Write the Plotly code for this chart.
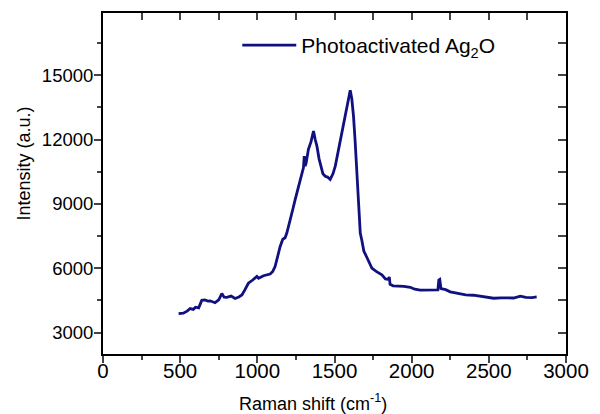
import plotly.graph_objects as go

raman_shift = [490, 520, 545, 565, 585, 600, 620, 640, 660, 680, 694, 710, 726, 750, 770, 785, 802, 830, 856, 880,
               900, 920, 942, 970, 997, 1008, 1040, 1083, 1100, 1115, 1130, 1148, 1165, 1180, 1191, 1213, 1230, 1245,
               1262, 1278, 1299, 1304, 1310, 1316, 1331, 1348, 1364, 1375, 1386, 1400, 1411, 1425, 1440, 1455, 1472,
               1490, 1505, 1520, 1537, 1553, 1569, 1585, 1602, 1612, 1623, 1633, 1641, 1650, 1656, 1667, 1677, 1690,
               1710, 1742, 1770, 1807, 1830, 1850, 1855, 1860, 1880, 1915, 1950, 1991, 2020, 2056, 2100, 2150, 2170,
               2176, 2182, 2190, 2220, 2250, 2300, 2350, 2400, 2450, 2500, 2531, 2580, 2620, 2660, 2704, 2740, 2780, 2810]
intensity = [3880, 3900, 4000, 4120, 4080, 4180, 4150, 4500, 4520, 4470, 4480, 4420, 4390, 4520, 4820, 4650, 4640, 4700, 4590, 4660,
             4750, 5000, 5300, 5450, 5620, 5530, 5650, 5730, 5850, 6075, 6500, 7013, 7350, 7420, 7640, 8200, 8750, 9200,
             9700, 10140, 10690, 11230, 10760, 10900, 11545, 11900, 12400, 12000, 11700, 11100, 10760, 10400, 10290, 10250, 10140,
             10400, 10760, 11300, 11860, 12450, 13100, 13700, 14300, 13900, 13100, 12000, 10920, 9800, 8900, 7640, 7300, 6800,
             6500, 6000, 5850, 5690, 5500, 5480, 5600, 5250, 5180, 5170, 5150, 5110, 5020, 4980, 4990, 4980, 4990,
             5450, 5480, 5050, 5000, 4900, 4820, 4760, 4740, 4690, 4640, 4600, 4620, 4630, 4610, 4700, 4640, 4630, 4660]

series_name = "Photoactivated Ag<sub>2</sub>O"
x_title = "Raman shift (cm<sup>-1</sup>)"
y_title = "Intensity (a.u.)"
x_range = [0, 3000]
y_range = [2000, 17900]

color = "#10107f"
font = "Arial"

fig = go.Figure()
fig.add_trace(go.Scatter(x=raman_shift, y=intensity, mode="lines", name=series_name,
                         line=dict(color=color, width=2.8)))
# helper invisible trace to carry the top/right frame axes
fig.add_trace(go.Scatter(x=raman_shift, y=intensity, mode="lines", xaxis="x2", yaxis="y2",
                         line=dict(width=0), opacity=0, showlegend=False, hoverinfo="skip"))

# page body has an 8px default margin, so the figure is sized to fill the rest of the window
fig.update_layout(
    width=592, height=406,
    margin=dict(l=95, r=34, t=5, b=60, autoexpand=False),
    paper_bgcolor="white", plot_bgcolor="white",
    font=dict(family=font, size=18, color="black"),
    showlegend=True,
    legend=dict(x=0.29, y=0.905, xanchor="left", yanchor="middle", bgcolor="rgba(0,0,0,0)",
                font=dict(size=21), itemwidth=54),
    xaxis=dict(range=x_range, tick0=0, dtick=500, ticks="outside", ticklen=7, tickwidth=2,
               tickformat="d", automargin=False, tickfont=dict(size=20.5), ticklabelstandoff=-10,
               showline=True, linewidth=2, linecolor="black", showgrid=False, zeroline=False,
               minor=dict(dtick=250, ticks="outside", ticklen=4, tickwidth=2)),
    yaxis=dict(range=y_range, tick0=0, dtick=3000, ticks="outside", ticklen=7, tickwidth=2,
               tickformat="d", automargin=False, tickfont=dict(size=18.5), ticklabelstandoff=-3,
               showline=True, linewidth=2, linecolor="black", showgrid=False, zeroline=False,
               minor=dict(dtick=1500, tick0=0, ticks="outside", ticklen=4, tickwidth=2)),
    xaxis2=dict(range=x_range, overlaying="x", side="top", anchor="y2", tick0=0, dtick=250,
                ticks="inside", ticklen=7, tickwidth=2, showticklabels=False, automargin=False,
                showline=True, linewidth=2, linecolor="black", showgrid=False, zeroline=False),
    yaxis2=dict(range=y_range, overlaying="y", side="right", anchor="x2", tick0=0, dtick=1500,
                ticks="inside", ticklen=8, tickwidth=2, showticklabels=False, automargin=False,
                showline=True, linewidth=2, linecolor="black", showgrid=False, zeroline=False),
    annotations=[
        dict(text=x_title, xref="paper", yref="paper", x=0.4536, y=-0.141, xanchor="center", yanchor="middle",
             showarrow=False, font=dict(size=18)),
        dict(text=y_title, xref="paper", yref="paper", x=-0.1706, y=0.5587, xanchor="center", yanchor="middle",
             textangle=-90, showarrow=False, font=dict(size=18)),
    ],
)

fig.write_html("out.html")
